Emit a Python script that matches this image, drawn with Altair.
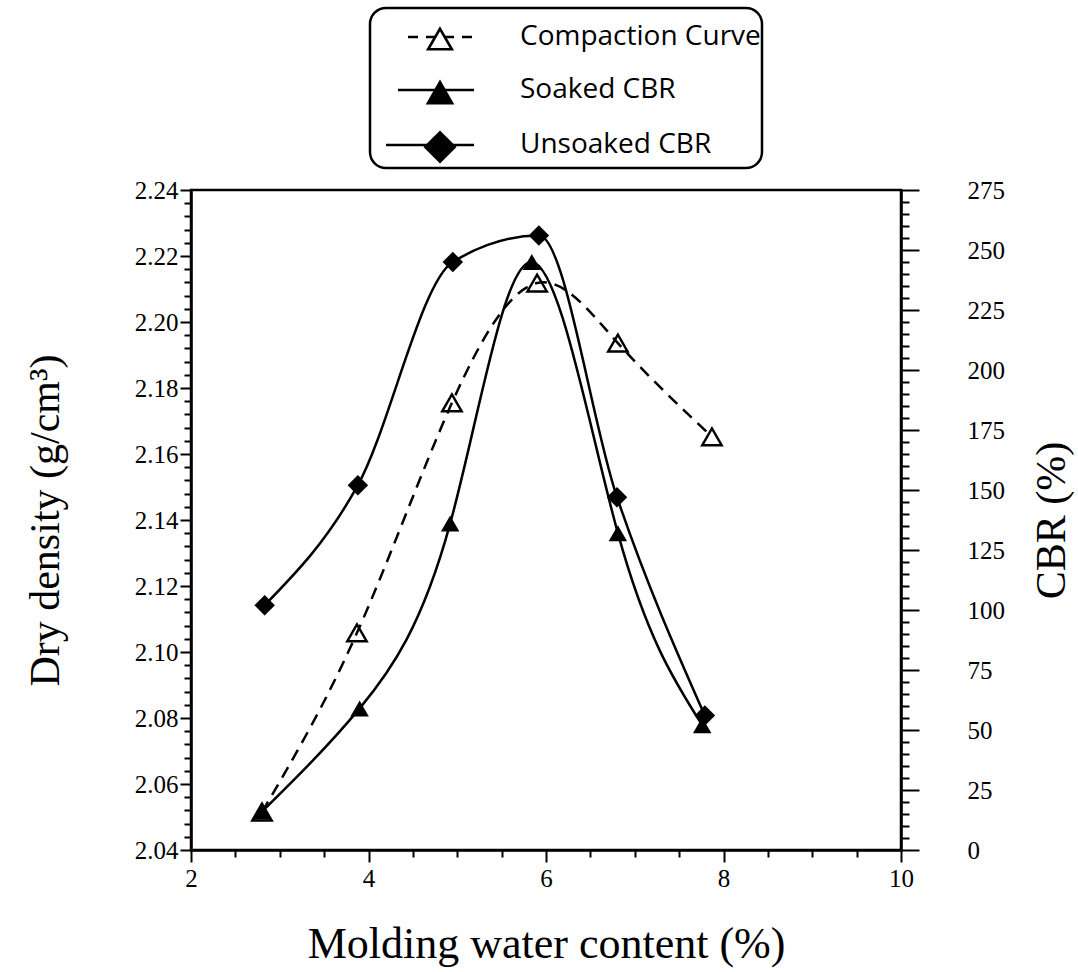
import altair as alt
import pandas as pd

# Compaction curve: molding water content (%) vs dry density (g/cm3)
comp_water = [2.80, 3.87, 4.94, 5.90, 6.81, 7.87]
comp_density = [2.0515, 2.1058, 2.1755, 2.2118, 2.1936, 2.1652]

# Soaked CBR (%)
soaked_water = [2.80, 3.90, 4.92, 5.84, 6.81, 7.76]
soaked_cbr = [16, 59, 136, 245, 132, 52]

# Unsoaked CBR (%)
unsoaked_water = [2.83, 3.88, 4.95, 5.92, 6.80, 7.79]
unsoaked_cbr = [102, 152, 245, 256, 147, 56]

legend_labels = ["Compaction Curve", "Soaked CBR", "Unsoaked CBR"]

SERIF = "Liberation Serif"
SANS = "Open Sans"
W, H = 710, 660
LW = 2.5

comp_df = pd.DataFrame({"w": comp_water, "dd": comp_density})
soak_df = pd.DataFrame({"w": soaked_water, "cbr": soaked_cbr})
uns_df = pd.DataFrame({"w": unsoaked_water, "cbr": unsoaked_cbr})

x_ticks = [2 + 0.5 * i for i in range(17)]
dd_ticks = [round(2.04 + 0.004 * i, 3) for i in range(51)]
cbr_ticks = [5 * i for i in range(56)]

axis_style = dict(
    grid=False,
    domainColor="black",
    domainWidth=LW,
    tickColor="black",
    tickWidth=2,
    labelColor="black",
    labelFont=SERIF,
    labelFontSize=25,
    titleFont=SERIF,
    titleFontWeight="normal",
    titleColor="black",
    labelOverlap=False,
    labelFlush=False,
)

x_enc = alt.X(
    "w:Q",
    scale=alt.Scale(domain=[2, 10], nice=False, zero=False),
    axis=alt.Axis(
        title="Molding water content (%)",
        values=x_ticks,
        labelExpr="datum.value % 2 == 0 ? format(datum.value, 'd') : ''",
        tickSize={"condition": {"test": "datum.value % 2 == 0", "value": 12}, "value": 7},
        labelPadding=4,
        titleFontSize=44,
        titleY=107,
        titleBaseline="alphabetic",
        **axis_style,
    ),
)

dd_major = "abs(datum.value*50 - round(datum.value*50)) < 0.01"
dd_axis = alt.Axis(
    orient="left",
    title="Dry density (g/cm³)",
    values=dd_ticks,
    labelExpr=dd_major + " ? format(datum.value, '.2f') : ''",
    tickSize={"condition": {"test": dd_major, "value": 11}, "value": 7},
    labelPadding=2,
    titleFontSize=42,
    titleAngle=270,
    titleX=-146,
    titleY=H / 2,
    titleAlign="center",
    titleBaseline="middle",
    **axis_style,
)

cbr_axis = alt.Axis(
    orient="right",
    title="CBR (%)",
    values=cbr_ticks,
    labelExpr="datum.value % 25 == 0 ? format(datum.value, 'd') : ''",
    tickSize={"condition": {"test": "datum.value % 25 == 0", "value": 18}, "value": 8},
    labelPadding=48,
    titleFontSize=42,
    titleAngle=270,
    titleX=150,
    titleY=H / 2,
    titleAlign="center",
    titleBaseline="middle",
    **axis_style,
)

dd_y = alt.Y("dd:Q", scale=alt.Scale(domain=[2.04, 2.24], nice=False, zero=False), axis=dd_axis)
cbr_y = alt.Y("cbr:Q", scale=alt.Scale(domain=[0, 275], nice=False, zero=False), axis=cbr_axis)

comp_line = alt.Chart(comp_df).mark_line(
    interpolate="natural", color="black", strokeWidth=LW, strokeDash=[12, 8]
).encode(x=x_enc, y=dd_y)
comp_pts = alt.Chart(comp_df).mark_point(
    shape="triangle-up", filled=False, color="black", strokeWidth=2.4, size=380, opacity=1
).encode(x=x_enc, y=dd_y)

soak_line = alt.Chart(soak_df).mark_line(
    interpolate="natural", color="black", strokeWidth=LW
).encode(x=x_enc, y=cbr_y)
soak_pts = alt.Chart(soak_df).mark_point(
    shape="triangle-up", filled=True, color="black", size=340, opacity=1
).encode(x=x_enc, y=cbr_y)

uns_line = alt.Chart(uns_df).mark_line(
    interpolate="monotone", color="black", strokeWidth=LW
).encode(x=x_enc, y=cbr_y)
uns_pts = alt.Chart(uns_df).mark_point(
    shape="diamond", filled=True, color="black", size=420, opacity=1
).encode(x=x_enc, y=cbr_y)

main = alt.layer(
    alt.layer(comp_line, comp_pts),
    alt.layer(soak_line, soak_pts, uns_line, uns_pts),
).resolve_scale(y="independent")

# Legend box drawn above the plot area
one = pd.DataFrame({"k": [0]})
box = alt.Chart(one).mark_rect(
    fill="white", stroke="black", strokeWidth=LW, cornerRadius=16
).encode(x=alt.value(179), x2=alt.value(571), y=alt.value(-182), y2=alt.value(-22))

row_y = [-153, -100, -45]
line_x0 = [217, 207, 195]
styles = [
    dict(shape="triangle-up", filled=False, size=560, dash=[10, 8]),
    dict(shape="triangle-up", filled=True, size=820, dash=None),
    dict(shape="diamond", filled=True, size=1100, dash=None),
]

legend_layers = [box]
for label, yy, x0, st in zip(legend_labels, row_y, line_x0, styles):
    lab_df = pd.DataFrame({"label": [label]})
    rule_kw = dict(color="black", strokeWidth=LW)
    if st["dash"]:
        rule_kw["strokeDash"] = st["dash"]
    legend_layers.append(
        alt.Chart(lab_df).mark_rule(**rule_kw).encode(
            x=alt.value(x0), x2=alt.value(283), y=alt.value(yy)
        )
    )
    if st["filled"]:
        pt = alt.Chart(lab_df).mark_point(
            shape=st["shape"], filled=True, color="black", size=st["size"], opacity=1
        )
    else:
        pt = alt.Chart(lab_df).mark_point(
            shape=st["shape"], filled=True, fill="white", stroke="black",
            strokeWidth=2.6, size=st["size"], opacity=1
        )
    legend_layers.append(pt.encode(x=alt.value(249), y=alt.value(yy + 2)))
    legend_layers.append(
        alt.Chart(lab_df).mark_text(
            align="left", baseline="middle", font=SANS, fontSize=28, color="black"
        ).encode(x=alt.value(329), y=alt.value(yy), text="label:N")
    )

chart = alt.layer(main, *legend_layers).properties(
    width=W,
    height=H,
    autosize=alt.AutoSizeParams(type="none"),
    padding={"left": 191, "top": 190, "right": 177, "bottom": 122},
    background="white",
).configure_view(
    stroke="black", strokeWidth=LW
)

chart.save("out.html", embed_options={"renderer": "svg", "actions": False})
